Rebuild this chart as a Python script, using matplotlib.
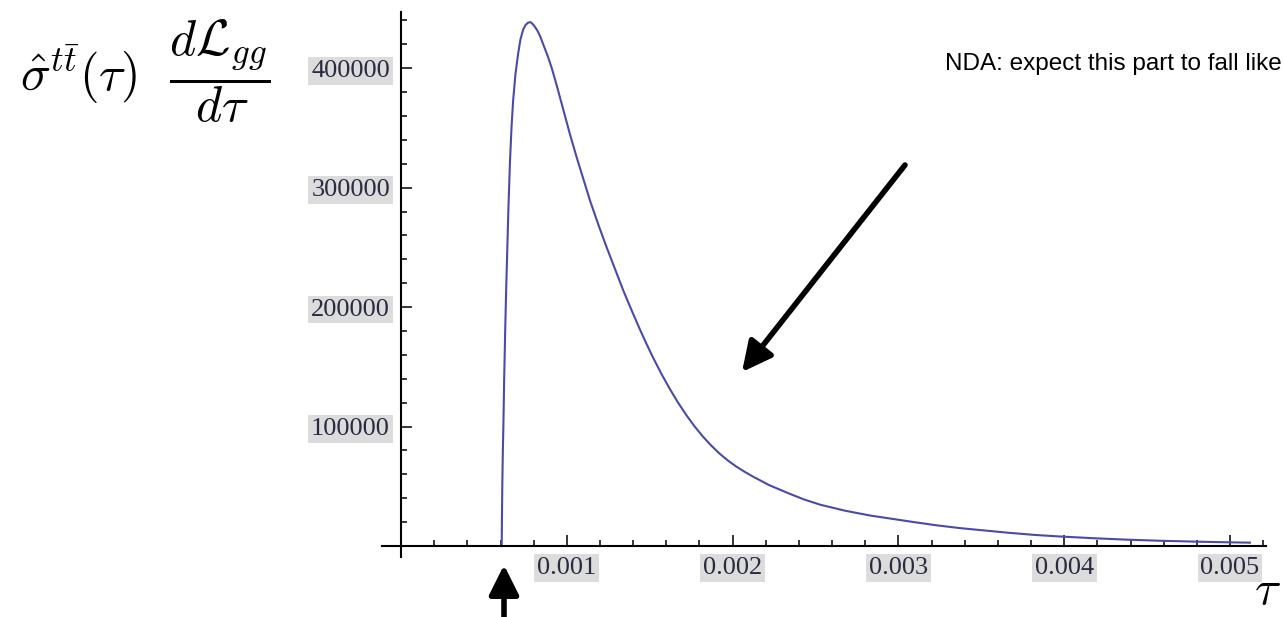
import numpy as np
import matplotlib.pyplot as plt
from matplotlib.ticker import FixedLocator, MultipleLocator

plt.rcParams['mathtext.fontset'] = 'cm'

# curve: tau vs sigma_hat * dL/dtau
tau = [0.000607, 0.000609, 0.000611, 0.000614, 0.000617, 0.000622, 0.000628,
       0.000634, 0.000640, 0.000648, 0.000657, 0.000666, 0.000676, 0.000690,
       0.000706, 0.000720, 0.000736, 0.000750, 0.000765, 0.000782, 0.000800,
       0.000820, 0.000838, 0.000860, 0.000885, 0.000909, 0.000940, 0.000977,
       0.00102, 0.00106, 0.00110, 0.00114, 0.00119, 0.00124, 0.00129,
       0.00134, 0.00139, 0.00144, 0.00148, 0.00152, 0.00157, 0.00162,
       0.00167, 0.00172, 0.00177, 0.00182, 0.00187, 0.00192, 0.00197,
       0.00202, 0.00207, 0.00212, 0.00222, 0.00233, 0.00243, 0.00253,
       0.00268, 0.00283, 0.00295, 0.00307, 0.00322, 0.00337, 0.00352,
       0.00367, 0.00382, 0.00397, 0.00418, 0.00438, 0.00458, 0.00478,
       0.00495, 0.00512]
xsec = [0, 30000, 55000, 80000, 100000, 140000, 180000,
        215000, 245000, 285000, 322000, 350000, 373000, 395000,
        412000, 424000, 432000, 436000, 438000, 438500, 436000,
        432000, 427000, 419000, 410000, 400000, 385000, 366000,
        344000, 325000, 307000, 289000, 269000, 250000, 232000,
        214000, 197500, 181500, 169300, 157700, 144200, 131700,
        120200, 109700, 100200, 91700, 84200, 77500, 71700,
        66700, 62300, 58300, 51000, 44500, 39000, 34500,
        29500, 25500, 23000, 20500, 17500, 15000, 13000,
        11000, 9300, 8000, 6500, 5300, 4400, 3700,
        3200, 2800]

x_major = [0.001, 0.002, 0.003, 0.004, 0.005]
x_labels = ['0.001', '0.002', '0.003', '0.004', '0.005']
y_major = [100000, 200000, 300000, 400000]
y_labels = ['100000', '200000', '300000', '400000']

W, H = 1284, 617
fig = plt.figure(figsize=(W / 100, H / 100), dpi=100)
ax = fig.add_axes([382 / W, 60 / H, 884 / W, 545 / H])
ax.set_xlim(-0.000115, 0.005217)
ax.set_ylim(-9200, 447000)

ax.plot(tau, xsec, color='#4a4aa8', lw=1.5)

for side in ['top', 'right']:
    ax.spines[side].set_visible(False)
for side in ['left', 'bottom']:
    ax.spines[side].set_position(('data', 0))
    ax.spines[side].set_linewidth(1.5)

ax.xaxis.set_major_locator(FixedLocator(x_major))
ax.xaxis.set_minor_locator(MultipleLocator(0.0002))
ax.yaxis.set_major_locator(FixedLocator(y_major))
ax.yaxis.set_minor_locator(MultipleLocator(20000))
ax.set_xticklabels(x_labels)
ax.set_yticklabels(y_labels)

ax.tick_params(axis='both', which='major', direction='in', length=8, width=1.1)
ax.tick_params(axis='both', which='minor', direction='in', length=4.3, width=1.1)
ax.tick_params(axis='x', which='major', pad=8)
ax.tick_params(axis='y', which='major', pad=8)

for lab in ax.get_xticklabels() + ax.get_yticklabels():
    lab.set_family('Liberation Serif')
    lab.set_fontsize(19)
    lab.set_color('#2a2a40')
    lab.set_bbox(dict(facecolor='#dcdcdc', edgecolor='none', pad=2))

# axis labels
fig.text(20 / W, 1 - 71 / H,
         r'$\hat{\sigma}^{t\bar{t}}(\tau)\ \ \dfrac{d\mathcal{L}_{gg}}{d\tau}$',
         fontsize=36, ha='left', va='center')
fig.text(1254 / W, 1 - 614 / H, r'$\tau$', fontsize=35, ha='left', va='bottom')

# note and arrows
fig.text(945 / W, 1 - 70 / H, 'NDA: expect this part to fall like',
         family='Liberation Sans', fontsize=17.5, ha='left', va='baseline')
head = '-|>,head_length=1.8,head_width=0.9'
ax.annotate('', xy=(742, H - 372), xycoords='figure pixels',
            xytext=(905, H - 165), textcoords='figure pixels',
            arrowprops=dict(arrowstyle=head, color='black', lw=4,
                            shrinkA=0, shrinkB=0))
ax.annotate('', xy=(504, H - 565), xycoords='figure pixels',
            xytext=(504, -5), textcoords='figure pixels',
            arrowprops=dict(arrowstyle=head, color='black', lw=4,
                            shrinkA=0, shrinkB=0))

fig.savefig('out.png', dpi=100)
